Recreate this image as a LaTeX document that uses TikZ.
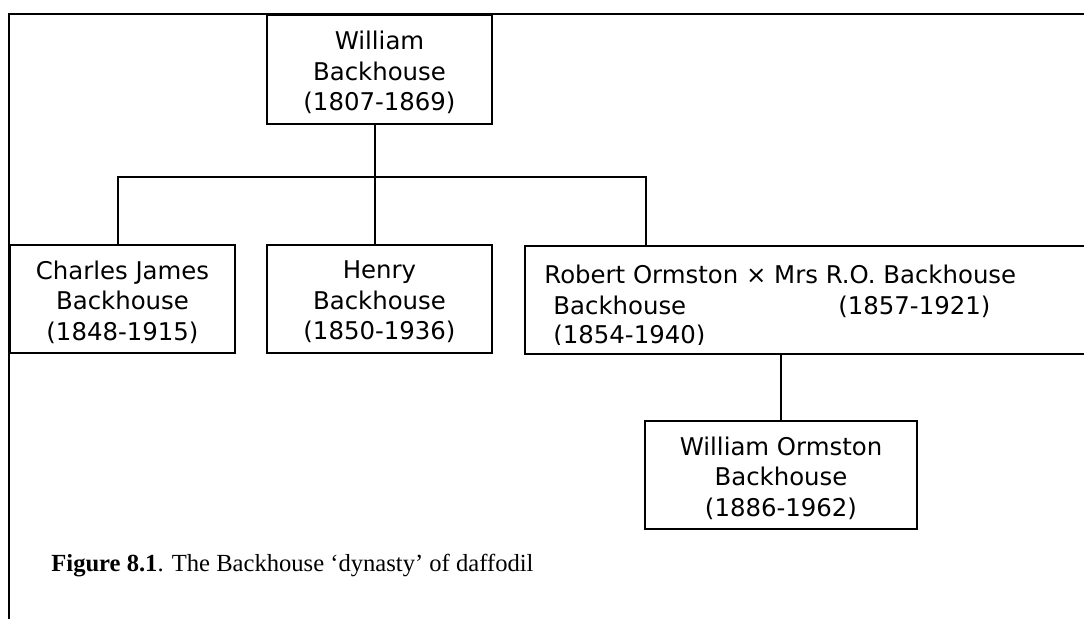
\documentclass[tikz,border=0pt]{standalone}
\usepackage{fontspec}
\setmainfont{Liberation Serif}
\newfontfamily\boxfont{DejaVu Sans}
\usetikzlibrary{calc}
\begin{document}
\begin{tikzpicture}[x=0.5pt,y=-0.5pt,
  frameline/.style={line width=1pt},
  person/.style={draw, line width=0.8pt, inner sep=0pt},
  names/.style={inner sep=0pt, align=center,
    font=\boxfont\fontsize{12.2pt}{15.25pt}\selectfont},
  plain/.style={inner sep=0pt, font=\boxfont\fontsize{12.2pt}{15.25pt}\selectfont},
  link/.style={line width=0.65pt}]
\useasboundingbox (0,0) rectangle (1084,619);
\clip (0,0) rectangle (1084,619);

% outer frame (runs off the right and bottom edges)
\draw[frameline] (9,660) -- (9,14.5) -- (1120,14.5);

% family members: box, then its lines of text
\node[person, minimum width=112.5pt, minimum height=54.5pt] (wb) at (379.5,69.5) {};
\node[names] (wbn) at ($(wb.center)+(0,3)$) {William\\Backhouse\\(1807-1869)};

\node[person, minimum width=112.5pt, minimum height=54pt] (cj) at (122.5,299) {};
\node[names] (cjn) at ($(cj.center)+(0,3)$) {Charles James\\Backhouse\\(1848-1915)};

\node[person, minimum width=112.5pt, minimum height=54pt] (hb) at (379.5,299) {};
\node[names] (hbn) at ($(hb.center)+(0,3)$) {Henry\\Backhouse\\(1850-1936)};

\node[person, minimum width=136pt, minimum height=54pt] (wo) at (781,475) {};
\node[names] (won) at ($(wo.center)+(0,3)$) {William Ormston\\Backhouse\\(1886-1962)};

\node[person, minimum width=340pt, minimum height=54pt, anchor=north west] (rob) at (524,245) {};

% couple's text, cut off at the lower margin of its box
\begin{scope}
  \clip (524,245) rectangle (1120,344.5);
  \node[plain, anchor=base west] (r1) at (544,284) {Robert Ormston × Mrs R.O. Backhouse};
  \node[plain, anchor=base west] (r2) at (553,315) {Backhouse};
  \node[plain, anchor=base west] (r3) at (838,315) {(1857-1921)};
  \node[plain, anchor=base west] (r4) at (553,344) {(1854-1940)};
\end{scope}

% connectors
\coordinate (barL) at (118,177);
\coordinate (barR) at (646,177);
\draw[link] ($(wb.south)+(-4.5,0)$) -- ($(hb.north)+(-4.5,0)$);
\draw[link] (cj.north -| barL) -- (barL) -- (barR) -- (rob.north -| barR);
\draw[link] (rob.south -| wo.north) -- (wo.north);

% caption
\node[inner sep=0pt, anchor=base west, font=\fontsize{12.3pt}{14pt}\selectfont] (cap) at (51,572)
  {\textbf{Figure 8.1}. The Backhouse ‘dynasty’ of daffodil};
\end{tikzpicture}
\end{document}
